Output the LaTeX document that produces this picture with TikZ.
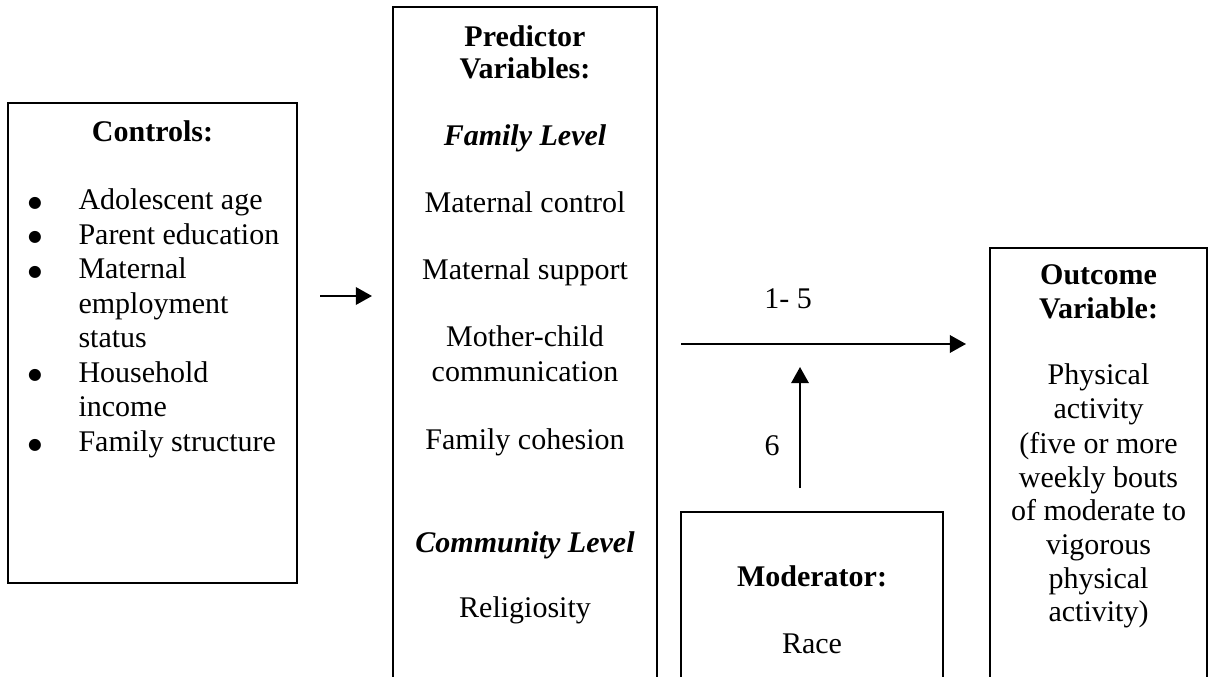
\documentclass[tikz,border=0pt]{standalone}
\usepackage{fontspec}
\setmainfont{Liberation Serif}
\newfontfamily\symfont{DejaVu Sans}
\usetikzlibrary{arrows.meta}
\tikzset{
  box/.style={draw, line width=1pt, inner sep=0pt, outer sep=0pt},
  txt/.style={anchor=base, inner sep=0pt, font=\fontsize{12pt}{14pt}\selectfont},
  bul/.style={anchor=base, inner sep=0pt, font=\symfont\fontsize{6.3pt}{7pt}\selectfont},
  ltxt/.style={anchor=base west, inner sep=0pt, font=\fontsize{12pt}{14pt}\selectfont},
  btxt/.style={txt, font=\fontsize{12pt}{14pt}\selectfont\bfseries},
  bitxt/.style={txt, font=\fontsize{12pt}{14pt}\selectfont\bfseries\itshape},
  arr/.style={line width=0.9pt, -{Triangle[length=6.5pt,width=7pt]}}
}
\begin{document}
\begin{tikzpicture}[x=0.4pt,y=-0.4pt]
\useasboundingbox (0,0) rectangle (1210,677);
\clip (0,0) rectangle (1210,677);
% boxes
\node[box, minimum width=115.6pt, minimum height=192pt] (controls) at (152.5,343) {};
\node[box, minimum width=105.6pt, minimum height=277.2pt] (predictor) at (525,353.5) {};
\node[box, minimum width=104.8pt, minimum height=75.2pt] (moderator) at (812,606) {};
\node[box, minimum width=86.8pt, minimum height=180.8pt] (outcome) at (1098.5,474) {};
% controls text
\node[btxt] (ctitle) at (152.5,142) {Controls:};
\node[bul] (b1) at (35,207.5) {●};
\node[ltxt] (c1) at (78,210) {Adolescent age};
\node[bul] (b2) at (35,242) {●};
\node[ltxt] (c2) at (78,244.5) {Parent education};
\node[bul] (b3) at (35,276.5) {●};
\node[ltxt] (c3) at (78,279) {Maternal};
\node[ltxt] (c4) at (78,313.5) {employment};
\node[ltxt] (c5) at (78,348) {status};
\node[bul] (b4) at (35,380) {●};
\node[ltxt] (c6) at (78,382.5) {Household};
\node[ltxt] (c7) at (78,417) {income};
\node[bul] (b5) at (35,449) {●};
\node[ltxt] (c8) at (78,451.5) {Family structure};
% predictor text
\node[btxt] (ptitle1) at (525,46.5) {Predictor};
\node[btxt] (ptitle2) at (525,79) {Variables:};
\node[bitxt] (famlev) at (525,146) {Family Level};
\node[txt] (p1) at (525,213) {Maternal control};
\node[txt] (p2) at (525,279.5) {Maternal support};
\node[txt] (p3) at (525,347) {Mother-child};
\node[txt] (p4) at (525,382) {communication};
\node[txt] (p5) at (525,449) {Family cohesion};
\node[bitxt] (comlev) at (525,552) {Community Level};
\node[txt] (p6) at (525,617) {Religiosity};
% moderator text
\node[btxt] (mtitle) at (812,586) {Moderator:};
\node[txt] (m1) at (812,653) {Race};
% outcome text
\node[btxt] (otitle1) at (1098.5,285) {Outcome};
\node[btxt] (otitle2) at (1098.5,318.5) {Variable:};
\node[txt] (o1) at (1098.5,385) {Physical};
\node[txt] (o2) at (1098.5,419) {activity};
\node[txt] (o3) at (1098.5,453) {(five or more};
\node[txt] (o4) at (1098.5,487) {weekly bouts};
\node[txt] (o5) at (1098.5,520.5) {of moderate to};
\node[txt] (o6) at (1098.5,554) {vigorous};
\node[txt] (o7) at (1098.5,588) {physical};
\node[txt] (o8) at (1098.5,621) {activity)};
% arrows
\coordinate (ca) at (320,296);
\coordinate (cb) at (372,296);
\draw[arr] (ca) -- (cb);
\coordinate (pa) at (681,344);
\coordinate (pb) at (966,344);
\draw[arr] (pa) -- (pb);
\coordinate (ma) at (800,488);
\coordinate (mb) at (800,367);
\draw[arr] (ma) -- (mb);
\node[txt] (lab15) at (788,309) {1- 5};
\node[txt] (lab6) at (772,455) {6};
\end{tikzpicture}
\end{document}
